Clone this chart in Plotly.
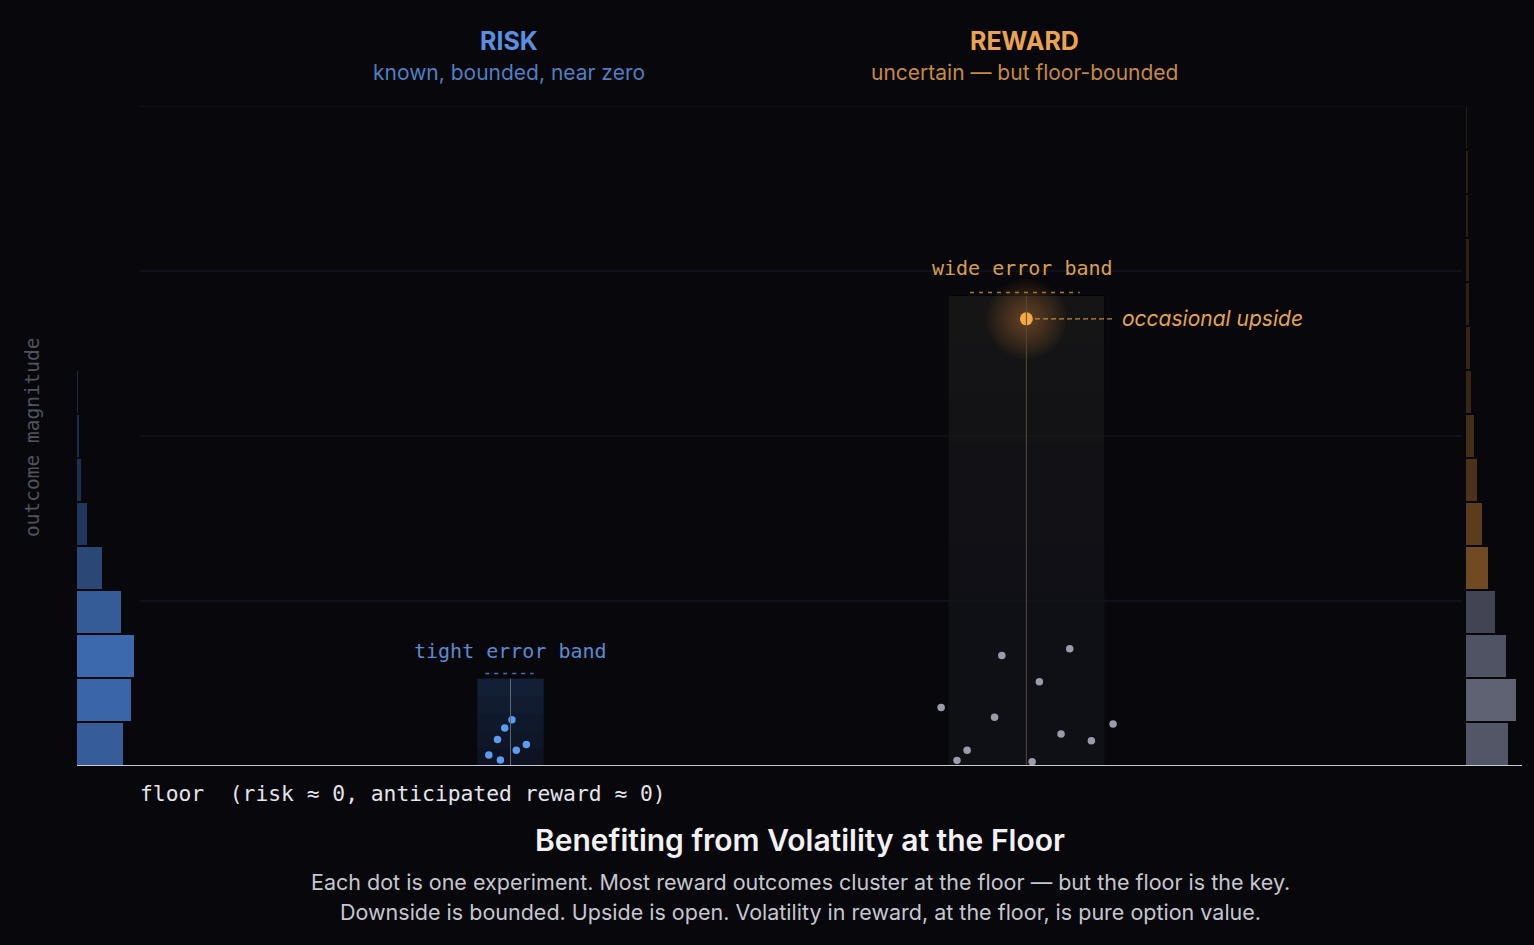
import plotly.graph_objects as go

# ---- data (x in 0..100 across the floor, y in outcome units, floor = 0) ----
risk_x = [30.1, 29.6, 29.1, 31.1, 30.4, 28.5, 29.3]
risk_y = [0.28, 0.23, 0.16, 0.13, 0.095, 0.067, 0.036]

reward_x = [64.0, 68.7, 66.6, 59.8, 63.5, 71.7, 68.1, 70.2, 61.6, 60.9, 66.1]
reward_y = [0.67, 0.71, 0.51, 0.355, 0.295, 0.254, 0.194, 0.153, 0.095, 0.034, 0.026]

upside_x = [65.7]
upside_y = [2.71]

# error bands: center, half width, top
risk_band = (30.0, 2.3, 0.53)
reward_band = (65.7, 5.4, 2.85)

# marginal histograms, 15 bins over 0..4
n_bins = 15
bin_h = 4 / n_bins
risk_hist = [46, 54, 57, 44, 25, 10, 4, 1.5, 1, 0, 0, 0, 0, 0, 0]
reward_hist = [42, 50, 40, 29, 22, 16, 11, 8.3, 5.3, 4.3, 3.3, 2.5, 2, 1.5, 1.2]

grid_levels = [1, 2, 3, 4]

BG = "#07070c"
BLUE = "#5b9cf0"
MONO = "DejaVu Sans Mono"
SANS = "Inter"

W, H = 1534, 945
floor_px, top_px = 766, 106
left_px, right_px = 77, 1522

bin_centers = [bin_h * (i + 0.5) for i in range(n_bins)]
bar_w = bin_h * 0.975

fig = go.Figure()

# left histogram (risk)
rmax = max(risk_hist)
fig.add_trace(go.Bar(
    x=risk_hist, y=bin_centers, orientation="h", width=bar_w,
    xaxis="x2", yaxis="y",
    marker=dict(
        color=[f"rgba(74,130,214,{0.3 + 0.5 * v / rmax:.2f})" for v in risk_hist],
        line_width=0,
    ),
    hoverinfo="skip", showlegend=False,
))

# right histogram (reward) - gray at the floor, orange above
wmax = max(reward_hist)
rcols = []
for c, v in zip(bin_centers, reward_hist):
    if c < 1:
        rcols.append(f"rgba(110,114,134,{0.2 + 0.65 * v / wmax:.2f})")
    else:
        rcols.append(f"rgba(230,150,60,{0.14 + 0.76 * v / wmax:.2f})")
fig.add_trace(go.Bar(
    x=reward_hist, y=bin_centers, orientation="h", width=bar_w,
    xaxis="x3", yaxis="y",
    marker=dict(color=rcols, line_width=0),
    hoverinfo="skip", showlegend=False,
))

shapes = []
for g in grid_levels:
    shapes.append(dict(type="line", xref="x", yref="y", x0=4.36, x1=95.85, y0=g, y1=g,
                       line=dict(color="#15151d", width=1.5), layer="below"))

# risk band
cx, hw, top = risk_band
shapes.append(dict(type="rect", xref="x", yref="y", x0=cx - hw, x1=cx + hw, y0=0, y1=top,
                   fillcolor="rgba(30,50,85,0.3)", line_width=0, layer="below"))
for k in range(1, 5):
    shapes.append(dict(type="rect", xref="x", yref="y", x0=cx - hw, x1=cx + hw,
                       y0=top - k * top / 5, y1=top,
                       fillcolor="rgba(40,65,110,0.07)", line_width=0, layer="below"))
shapes.append(dict(type="line", xref="x", yref="y", x0=cx, x1=cx, y0=0, y1=top,
                   line=dict(color="#5d6678", width=1)))
shapes.append(dict(type="line", xref="x", yref="y", x0=cx - 1.75, x1=cx + 1.6,
                   y0=top + 0.03, y1=top + 0.03,
                   line=dict(color="#4a70a8", width=1.5, dash="4px,5px")))

# reward band
cx, hw, top = reward_band
shapes.append(dict(type="rect", xref="x", yref="y", x0=cx - hw, x1=cx + hw, y0=0, y1=top,
                   fillcolor="rgba(20,20,28,0.65)", line_width=0, layer="below"))
for k in range(1, 7):
    shapes.append(dict(type="rect", xref="x", yref="y", x0=cx - hw, x1=cx + hw,
                       y0=top - k * 0.3, y1=top,
                       fillcolor="rgba(120,80,30,0.018)", line_width=0, layer="below"))
shapes.append(dict(type="line", xref="x", yref="y", x0=cx, x1=cx, y0=0, y1=top,
                   line=dict(color="#5a4a38", width=1)))
shapes.append(dict(type="line", xref="x", yref="y", x0=cx - 3.9, x1=cx + 3.7,
                   y0=top + 0.02, y1=top + 0.02,
                   line=dict(color="#a07838", width=1.5, dash="4px,5px")))

# connector to the upside dot label
shapes.append(dict(type="line", xref="x", yref="y", x0=upside_x[0] + 0.6, x1=71.8,
                   y0=upside_y[0], y1=upside_y[0],
                   line=dict(color="#c08a40", width=1.3, dash="5px,3px")))

# floor
shapes.append(dict(type="line", xref="x", yref="y", x0=0, x1=100, y0=0, y1=0,
                   line=dict(color="#c8c8d0", width=2)))

# soft glow around the upside dot
for s in range(80, 14, -6):
    fig.add_trace(go.Scatter(
        x=upside_x, y=upside_y, mode="markers",
        marker=dict(size=s, color="rgba(240,160,60,0.03)", line_width=0),
        hoverinfo="skip", showlegend=False,
    ))

fig.add_trace(go.Scatter(
    x=risk_x, y=risk_y, mode="markers",
    marker=dict(size=7.5, color=BLUE, line_width=0),
    showlegend=False,
))
fig.add_trace(go.Scatter(
    x=reward_x, y=reward_y, mode="markers",
    marker=dict(size=7.5, color="#9a9cab", line_width=0),
    showlegend=False,
))
fig.add_trace(go.Scatter(
    x=upside_x, y=upside_y, mode="markers",
    marker=dict(size=13, color="#f5a843", line_width=0),
    showlegend=False,
))


def px_x(p):
    return p / W


def px_y(p):
    return 1 - p / H


annotations = [
    dict(text="<b>RISK</b>", x=px_x(509), y=px_y(41), font=dict(family=SANS, size=25, color="#5b8fe0")),
    dict(text="known, bounded, near zero", x=px_x(509), y=px_y(73), font=dict(family=SANS, size=21, color="#4f7fc0")),
    dict(text="<b>REWARD</b>", x=px_x(1024), y=px_y(41), font=dict(family=SANS, size=25, color="#eaa350")),
    dict(text="uncertain — but floor-bounded", x=px_x(1024), y=px_y(73), font=dict(family=SANS, size=21, color="#c58a45")),
    dict(text="outcome magnitude", x=px_x(32), y=px_y(437), textangle=-90,
         font=dict(family=MONO, size=19.5, color="#50545f")),
    dict(text="floor\u00a0\u00a0(risk ≈ 0, anticipated reward ≈ 0)", x=px_x(138), y=px_y(793), xanchor="left",
         font=dict(family=MONO, size=21.3, color="#e4e4ea")),
    dict(text="Benefiting from Volatility at the Floor", x=px_x(800), y=px_y(840),
         font=dict(family=SANS, size=30, color="#f2f2f4", weight=600)),
    dict(text="Each dot is one experiment. Most reward outcomes cluster at the floor — but the floor is the key.",
         x=px_x(800), y=px_y(882), font=dict(family=SANS, size=21.5, color="#c6c6ce")),
    dict(text="Downside is bounded. Upside is open. Volatility in reward, at the floor, is pure option value.",
         x=px_x(800), y=px_y(912), font=dict(family=SANS, size=21.5, color="#c6c6ce")),
]
for a in annotations:
    a.update(xref="paper", yref="paper", showarrow=False)
    a.setdefault("xanchor", "center")
    a["yanchor"] = "middle"

annotations += [
    dict(text="tight error band", x=risk_band[0], y=0.70, xref="x", yref="y", showarrow=False,
         font=dict(family=MONO, size=20, color="#5b8ad0")),
    dict(text="wide error band", x=reward_band[0] - 0.3, y=3.02, xref="x", yref="y", showarrow=False,
         font=dict(family=MONO, size=20, color="#d9a050")),
    dict(text="<i>occasional upside</i>", x=72.2, y=upside_y[0], xref="x", yref="y", showarrow=False,
         xanchor="left", font=dict(family=SANS, size=21, color="#e3a552")),
]

y_dom = [1 - floor_px / H, 1 - top_px / H]

fig.update_layout(
    width=W, height=H,
    margin=dict(l=0, r=0, t=0, b=0),
    paper_bgcolor=BG, plot_bgcolor="rgba(0,0,0,0)",
    xaxis=dict(domain=[left_px / W, right_px / W], range=[0, 100], visible=False, fixedrange=True),
    xaxis2=dict(domain=[left_px / W, (left_px + 200) / W], range=[0, 200], visible=False,
                anchor="y", fixedrange=True),
    xaxis3=dict(domain=[1466 / W, 1], range=[0, 68], visible=False, anchor="y", fixedrange=True),
    yaxis=dict(domain=y_dom, range=[0, 4], visible=False, fixedrange=True),
    shapes=shapes,
    annotations=annotations,
    bargap=0,
)

fig.write_html("out.html", config=dict(displayModeBar=False),
               post_script="document.body.style.margin='0';document.body.style.overflow='hidden';")
